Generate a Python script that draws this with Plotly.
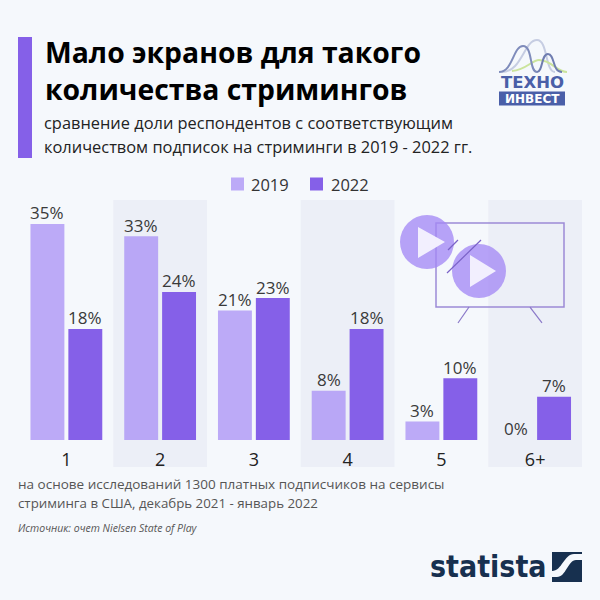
import plotly.graph_objects as go

categories = ["1", "2", "3", "4", "5", "6+"]
series_names = ["2019", "2022"]
values_2019 = [35, 33, 21, 8, 3, 0]
values_2022 = [18, 24, 23, 18, 10, 7]

W, H = 600, 600
BG = "#f5f8fc"
BAND = "#eceff7"
FONT = "Open Sans"
COL_2019 = "rgba(164,137,245,0.7)"
COL_2022 = "#8560e8"


def px(x):
    return x / W


def py(y):
    return 1 - y / H


def pth(points, close=False):
    s = "M " + " L ".join(f"{px(x):.4f},{py(y):.4f}" for x, y in points)
    return s + (" Z" if close else "")


def curve(points):
    s = f"M {px(points[0][0]):.4f},{py(points[0][1]):.4f}"
    rest = points[1:]
    for k in range(0, len(rest), 3):
        s += " C " + " ".join(f"{px(x):.4f},{py(y):.4f}" for x, y in rest[k:k + 3])
    return s


fig = go.Figure()
for name, vals, col in [
    (series_names[0], values_2019, COL_2019),
    (series_names[1], values_2022, COL_2022),
]:
    fig.add_bar(name=name, x=categories, y=vals, marker_color=col, marker_line_width=0, cliponaxis=False)

# value labels sit on the bars, tied to the axis scale
for offset, vals in [(-0.202, values_2019), (0.202, values_2022)]:
    for i, v in enumerate(vals):
        fig.add_annotation(
            xref="x", yref="y", x=i + offset, y=v, yshift=11, text=f"{v}%", showarrow=False,
            xanchor="center", yanchor="middle", font=dict(family=FONT, size=17, color="#3a3a3a"),
        )

shapes = []
for i in range(len(categories)):
    if i % 2 == 1:
        shapes.append(dict(type="rect", xref="x", yref="paper", x0=i - 0.5, x1=i + 0.5,
                           y0=py(467), y1=py(200), fillcolor=BAND, line_width=0, layer="below"))


def paper_shape(**kw):
    d = dict(xref="paper", yref="paper")
    d.update(kw)
    shapes.append(d)


paper_shape(type="rect", x0=px(18), x1=px(32), y0=py(158), y1=py(37), fillcolor=COL_2022, line_width=0)

# legend
for x0, col in [(231, COL_2019), (310, COL_2022)]:
    paper_shape(type="rect", x0=px(x0), x1=px(x0 + 13), y0=py(190.5), y1=py(177.5), fillcolor=col, line_width=0)

# TV icon
PURPLE = "#9c8ad6"
paper_shape(type="rect", x0=px(436), x1=px(564), y0=py(307), y1=py(223),
            line=dict(color=PURPLE, width=1.5), fillcolor="rgba(0,0,0,0)")
for pts in [[(469, 307), (458, 323)], [(530, 307), (542, 323)]]:
    paper_shape(type="path", path=pth(pts), line=dict(color="#8a78c8", width=1.2))
for (cx, cy), tri in [
    ((427, 242), [(418, 227), (418, 258), (445, 242)]),
    ((479, 271), [(470, 255), (470, 287), (496, 271)]),
]:
    paper_shape(type="circle", x0=px(cx - 27), x1=px(cx + 27), y0=py(cy + 27), y1=py(cy - 27),
                fillcolor="rgba(164,137,245,0.78)", line_width=0)
    paper_shape(type="path", path=pth(tri, True), fillcolor="rgba(245,243,254,0.95)", line_width=0)
for pts in [[(448, 250), (458, 240)], [(447, 273), (481, 240)]]:
    paper_shape(type="path", path=pth(pts), line=dict(color="#7a62c8", width=1.2))

# Techno-invest logo
paper_shape(type="path", path=curve([(502, 72), (522, 72), (524, 40), (537, 40), (548, 40), (545, 72), (555, 72)]),
            line=dict(color="#c6cde2", width=2))
paper_shape(type="path", path=curve([(512, 71), (526, 70), (532, 60), (539, 60), (552, 60), (556, 72), (567, 72)]),
            line=dict(color="#cbe49c", width=2))
paper_shape(type="path", path=curve([(499, 72), (513, 72), (513, 46), (523, 46), (533, 46), (529, 72), (537, 72)]),
            line=dict(color="#7f8cbb", width=2))
paper_shape(type="path", path=curve([(537, 72), (543, 72), (541, 54), (548, 54), (555, 54), (552, 72), (562, 72)]),
            line=dict(color="#6f7db0", width=2))
paper_shape(type="rect", x0=px(499), x1=px(565), y0=py(105.5), y1=py(91.5), fillcolor="#4a5fa8", line_width=0)

# Statista icon
paper_shape(type="rect", x0=px(552), x1=px(582), y0=py(582), y1=py(552), fillcolor="#17304f", line_width=0)
swoosh = (
    f"M {px(552):.4f},{py(571):.4f} C {px(562):.4f},{py(571):.4f} {px(564):.4f},{py(554):.4f} {px(574):.4f},{py(554):.4f}"
    f" L {px(582):.4f},{py(554):.4f} L {px(582):.4f},{py(560):.4f} L {px(576):.4f},{py(560):.4f}"
    f" C {px(568):.4f},{py(560):.4f} {px(566):.4f},{py(577):.4f} {px(557):.4f},{py(577):.4f}"
    f" L {px(552):.4f},{py(577):.4f} Z"
)
paper_shape(type="path", path=swoosh, fillcolor=BG, line_width=0)


def txt(x, y, s, size, color="#222222", family=FONT, bold=False, italic=False, xanchor="left"):
    fig.add_annotation(
        xref="paper", yref="paper", x=px(x), y=py(y), text=f"<b>{s}</b>" if bold else (f"<i>{s}</i>" if italic else s),
        showarrow=False, xanchor=xanchor, yanchor="middle", align="left",
        font=dict(family=family, size=size, color=color), borderpad=0, borderwidth=0,
    )


txt(45, 52, "Мало экранов для такого", 28.35, "#000000", bold=True)
txt(45, 89, "количества стримингов", 28.35, "#000000", bold=True)
txt(44, 123, "сравнение доли респондентов с соответствующим", 16.4)
txt(44, 146, "количеством подписок на стриминги в 2019 - 2022 гг.", 16.4)
txt(251, 184, series_names[0], 16.5, "#333333")
txt(331, 184, series_names[1], 16.5, "#333333")
txt(18, 484, "на основе исследований 1300 платных подписчиков на сервисы", 13.5, "#555555")
txt(18, 503, "стриминга в США, декабрь 2021 - январь 2022", 13.3, "#555555")
txt(18, 528, "Источник: очет Nielsen State of Play", 10.5, "#555555", italic=True)
txt(532, 82.5, "ТЕХНО", 16.5, "#4a5fa8", family="DejaVu Sans", bold=True, xanchor="center")
txt(532, 99, "ИНВЕСТ", 12, "#ffffff", family="DejaVu Sans", bold=True, xanchor="center")
txt(489, 566, "statista", 30, "#17304f", family="DejaVu Sans Condensed", bold=True, xanchor="center")

fig.update_layout(
    width=W, height=H, margin=dict(l=0, r=0, t=0, b=0),
    paper_bgcolor=BG, plot_bgcolor="rgba(0,0,0,0)",
    barmode="group", bargap=0.1915, bargroupgap=0.105,
    shapes=shapes, showlegend=False,
    xaxis=dict(domain=[px(19.5), px(582)], type="category", range=[-0.5, 5.5], showgrid=False,
               showline=False, zeroline=False, ticks="outside", ticklen=3, tickcolor="rgba(0,0,0,0)",
               tickfont=dict(family=FONT, size=18, color="#222222")),
    yaxis=dict(domain=[py(440), py(200)], range=[0, 240 / (216 / 35)], visible=False),
)

fig.write_html("out.html", config=dict(displayModeBar=False),
               post_script="document.body.style.margin='0';document.body.style.overflow='hidden';")
